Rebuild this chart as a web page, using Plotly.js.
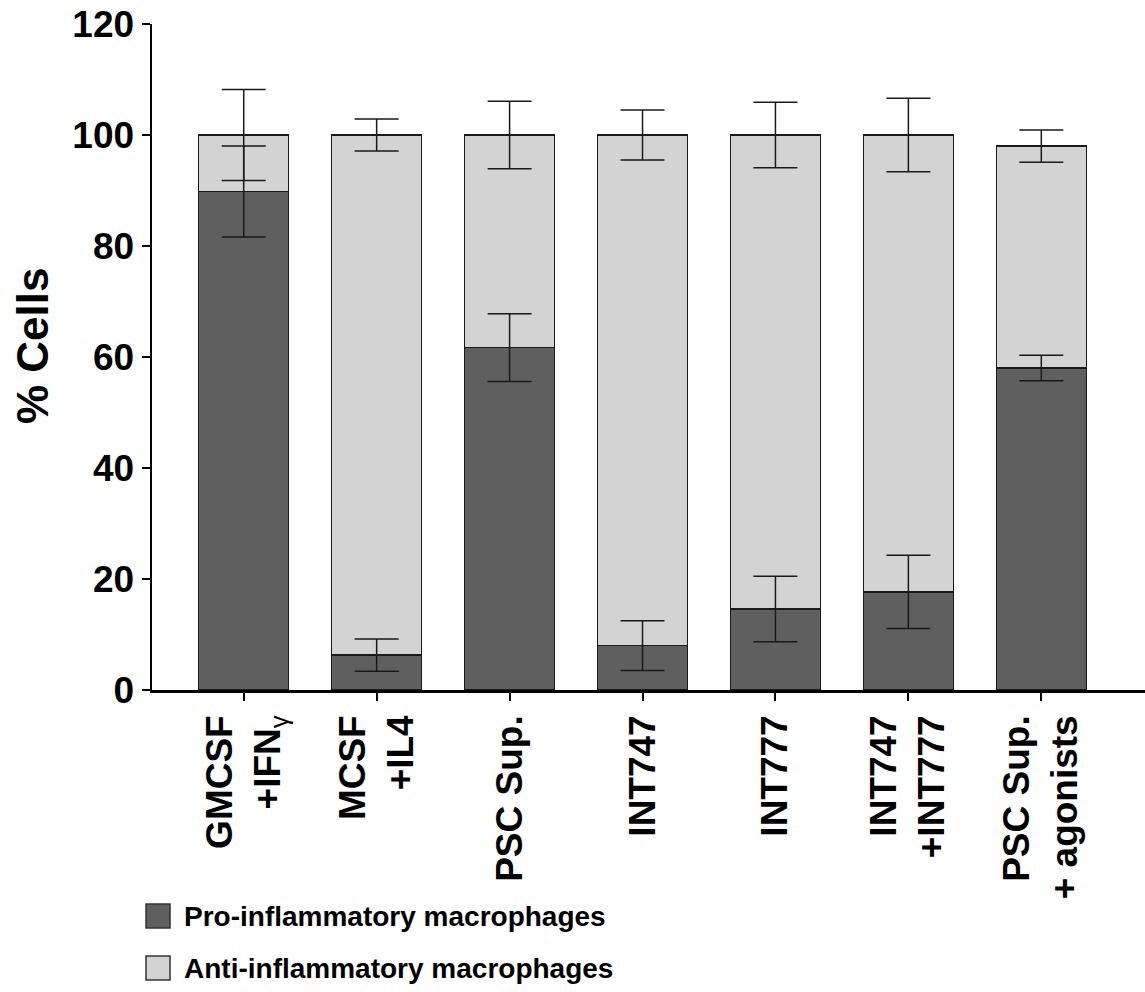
<!DOCTYPE html>
<html>
<head>
<meta charset="utf-8">
<script src="https://cdn.plot.ly/plotly-3.0.1.min.js"></script>
<style>html,body{margin:0;padding:0;background:#fff;}#chart{width:1145px;height:992px;}</style>
</head>
<body>
<div id="chart"></div>
<script>
const categories = ["GMCSF<br>+IFN<sub><span style=\"font-weight:normal\">γ</span></sub>", "MCSF<br>+IL4", "PSC Sup.", "INT747", "INT777", "INT747<br>+INT777", "PSC Sup.<br>+ agonists"];
const proValues = [89.8, 6.3, 61.7, 8.0, 14.6, 17.7, 58.0];
const proErrors = [8.2, 2.9, 6.1, 4.5, 5.9, 6.6, 2.3];
const antiValues = [10.2, 93.7, 38.3, 92.0, 85.4, 82.3, 40.0];
const antiErrors = [8.2, 2.9, 6.1, 4.5, 5.9, 6.6, 2.9];
const seriesNames = ["Pro-inflammatory macrophages", "Anti-inflammatory macrophages"];
const yTicks = [0, 20, 40, 60, 80, 100, 120];
const yTitle = "% Cells";

const darkColor = "#5f5f5f", lightColor = "#d3d3d3", edge = "#1a1a1a";
const totals = proValues.map((v, i) => v + antiValues[i]);
const fontFam = "Liberation Sans, Arial, sans-serif";

const traces = [
  {type: "bar", x: categories, y: proValues, name: seriesNames[0], showlegend: false,
   marker: {color: darkColor, line: {color: edge, width: 1.5}}},
  {type: "bar", x: categories, y: antiValues, name: seriesNames[1], showlegend: false,
   marker: {color: lightColor, line: {color: edge, width: 1.5}}},
  {type: "scatter", mode: "markers", x: categories, y: proValues, showlegend: false, hoverinfo: "skip",
   marker: {size: 1, opacity: 0},
   error_y: {type: "data", array: proErrors, visible: true, color: edge, thickness: 1.5, width: 22}},
  {type: "scatter", mode: "markers", x: categories, y: totals, showlegend: false, hoverinfo: "skip",
   marker: {size: 1, opacity: 0},
   error_y: {type: "data", array: antiErrors, visible: true, color: edge, thickness: 1.5, width: 22}}
];

// manual legend / title placement in paper coords
const plotL = 152, plotR = 1145, plotT = 24, plotB = 690;
const pw = plotR - plotL, ph = plotB - plotT;
const px = x => (x - plotL) / pw;
const py = y => (plotB - y) / ph;
const legendRows = [916, 968];
const legendColors = [darkColor, lightColor];
const shapes = legendRows.map((yc, i) => ({
  type: "rect", xref: "paper", yref: "paper",
  x0: px(146), x1: px(170), y0: py(yc + 12), y1: py(yc - 12),
  fillcolor: legendColors[i], line: {color: "#333", width: 1.5}
}));
const annotations = legendRows.map((yc, i) => ({
  xref: "paper", yref: "paper", x: px(182), y: py(yc), xanchor: "left", yanchor: "middle",
  showarrow: false, text: seriesNames[i],
  font: {family: fontFam, size: 28, weight: "bold", color: "#000"}
}));
annotations.push({
  xref: "paper", yref: "paper", x: px(32), y: py(346), xanchor: "center", yanchor: "middle",
  showarrow: false, text: yTitle, textangle: -90,
  font: {family: fontFam, size: 44, weight: "bold", color: "#000"}
});

const layout = {
  width: 1145, height: 992,
  margin: {l: plotL, r: 0, t: plotT, b: 992 - plotB, pad: 0},
  paper_bgcolor: "#fff", plot_bgcolor: "#fff",
  barmode: "stack", bargap: 0.323,
  showlegend: false,
  xaxis: {
    type: "category", range: [-0.69, 6.78], showgrid: false, zeroline: false,
    showline: true, linecolor: "#000", linewidth: 2.5,
    ticks: "outside", ticklen: 8, tickwidth: 2, tickcolor: "#000",
    tickangle: -90, automargin: false,
    tickfont: {family: fontFam, size: 37, weight: "bold", color: "#000"}
  },
  yaxis: {
    range: [0, 120], tickvals: yTicks, ticktext: yTicks.map(String),
    showgrid: false, zeroline: false,
    showline: true, linecolor: "#000", linewidth: 2.5,
    ticks: "outside", ticklen: 8, tickwidth: 2, tickcolor: "#000",
    automargin: false,
    tickfont: {family: fontFam, size: 37, weight: "bold", color: "#000"}
  },
  shapes: shapes,
  annotations: annotations
};

Plotly.newPlot("chart", traces, layout, {displayModeBar: false, staticPlot: true});
</script>
</body>
</html>
